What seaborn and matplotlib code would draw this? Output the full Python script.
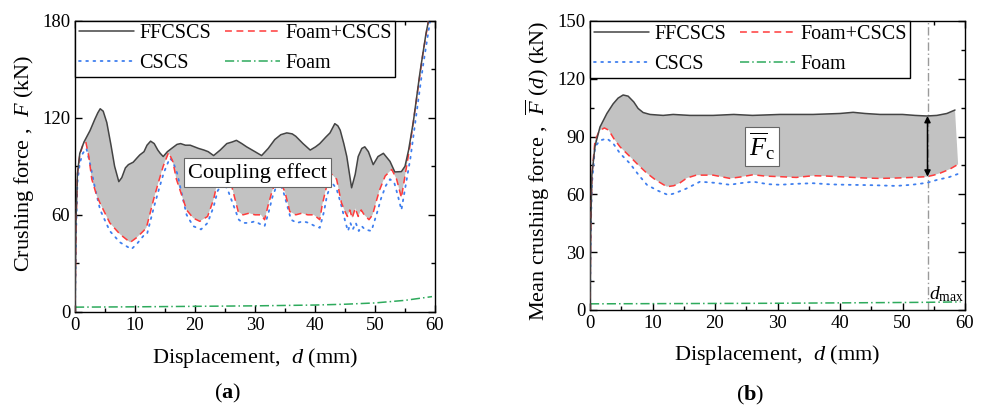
import numpy as np
import pandas as pd
import matplotlib
matplotlib.use("Agg")
import matplotlib.pyplot as plt
from matplotlib.ticker import MultipleLocator
import seaborn as sns

# ---------------- data: panel (a) crushing force ----------------
a_ff_d = [0, 0.15, 0.4, 0.8, 1.5, 2.5, 3.3, 3.8, 4.2, 4.7, 5.3, 6.0, 6.6, 7.3, 7.8, 8.4, 8.9,
          9.7, 10.3, 10.8, 11.5, 12.0, 12.6, 13.2, 13.8, 14.2, 14.7, 15.4, 16.1, 17.0, 17.6,
          18.4, 19.2, 20.6, 21.5, 22.2, 23.1, 24.2, 25.3, 26.2, 26.9, 27.8, 28.6, 30.0, 31.1,
          32.2, 33.3, 34.3, 35.3, 36.2, 36.8, 38.0, 39.2, 40.1, 40.8, 41.8, 42.5, 43.3, 43.8,
          44.2, 44.8, 45.3, 46.1, 46.7, 47.2, 47.8, 48.3, 48.9, 49.7, 50.5, 51.4, 52.5, 53.3,
          54.4, 55.0, 55.6, 56.4, 57.5, 58.5, 59.2]
a_ff_f = [0, 55, 85, 98, 105, 112, 119, 123, 125.5, 124, 117, 103, 90, 80.5, 83, 89, 91,
          92.5, 95, 97, 99, 103, 105.5, 104, 100, 98, 96, 99, 101, 103.5, 104,
          103, 103, 101, 100, 99, 96.6, 100, 104, 105, 106, 104, 102, 99, 96.6,
          101, 106.5, 109.5, 110.6, 110, 108.5, 104, 100, 102, 104, 108, 110.6, 116.3, 115,
          112.3, 104, 96, 76.7, 85, 96, 101, 102, 99, 91, 96, 98, 93, 86.5,
          86.7, 90, 100, 117.7, 148, 172, 185]

a_fc_d = [0, 0.15, 0.4, 0.8, 1.3, 1.8, 2.3, 2.8, 3.6, 4.2, 5.8, 7.5, 9.2, 10.3, 11.4, 11.9, 13.1,
          13.9, 14.7, 15.6, 16.3, 16.9, 18.6, 19.7, 20.8, 22.1, 23.1, 23.6, 24.8, 26.1, 27.2,
          28.0, 29.0, 30.0, 31.0, 31.6, 32.2, 32.8, 33.8, 35.0, 35.8, 36.8, 37.8, 38.8, 39.8,
          40.8, 41.2, 41.7, 42.3, 42.8, 43.6, 44.4, 45.0, 45.4, 45.8, 46.2, 46.7, 47.2, 47.7,
          48.2, 49.0, 49.6, 50.3, 50.8, 51.7, 52.8, 53.6, 54.4, 55.0, 55.8, 56.9, 58.0, 59.0]
a_fc_f = [0, 50, 85, 97, 103, 105, 96, 82, 72, 67, 55, 48, 43, 46, 50, 52, 69.5,
          80, 90, 98.5, 93, 82, 63, 58, 56, 59, 69.5, 78, 84, 78, 62,
          60, 61, 60, 60, 57, 66, 74, 84, 74, 62, 60, 61, 60, 60,
          57, 66, 74, 83, 85, 82, 67.5, 62, 59, 63, 58, 64, 59, 63,
          60, 57, 60, 69.5, 75.7, 84, 88, 82, 70.6, 84, 102, 131, 160, 182]

a_cs_d = [0, 0.15, 0.4, 0.8, 1.3, 1.9, 2.6, 3.3, 4.2, 5.8, 7.5, 9.4, 10.3, 11.4, 12.0, 13.1,
          14.0, 14.8, 15.8, 16.3, 17.0, 18.6, 19.7, 21.0, 22.1, 23.1, 23.8, 24.8, 25.6, 26.3,
          27.3, 28.0, 29.0, 30.0, 31.0, 31.6, 32.3, 32.9, 33.8, 34.6, 35.2, 36.0, 37.0, 38.0,
          39.0, 40.0, 40.8, 41.5, 42.0, 42.8, 43.6, 44.3, 45.1, 45.5, 45.9, 46.3, 46.8, 47.3,
          47.8, 48.3, 49.4, 50.4, 51.0, 51.8, 52.5, 53.2, 53.8, 54.4, 55.1, 55.9, 57.0,
          58.0, 59.2]
a_cs_f = [0, 45, 80, 92, 98, 101, 90, 77, 63, 50, 43, 38.8, 42, 47, 48, 64,
          76, 86, 95, 93, 86, 60, 53, 51, 55, 65, 75, 80, 74, 67,
          57, 55, 55, 56, 54, 53, 62, 71, 80, 76, 68, 57, 55, 56,
          55, 53, 52, 62, 72, 80, 76, 67, 55, 50, 55, 51, 55, 50,
          53, 51, 50, 62, 70, 78, 82, 80, 72, 63, 78, 95, 125,
          152, 180]

a_fo_d = [0, 10, 20, 30, 40, 45, 50, 55, 59.5]
a_fo_f = [3, 3.2, 3.5, 3.8, 4.3, 4.8, 5.6, 7.2, 9.5]

# ---------------- data: panel (b) mean crushing force ----------------
b_ff_d = [0, 0.1, 0.3, 0.8, 1.6, 2.7, 3.7, 4.5, 5.3, 6.1, 7.0, 7.7, 8.5, 9.6, 11.7, 13.3, 16,
          19.7, 23, 26, 30.4, 35.7, 40, 42.1, 44, 46.4, 50, 52, 53.9, 55.5, 57.1, 58.4]
b_ff_f = [0, 40, 70, 85, 95, 102, 107, 110, 111.6, 111, 108, 104.6, 102.5, 101.5, 101, 101.5, 101,
          101, 101.5, 101, 101.5, 101.5, 102, 102.6, 102, 101.5, 101.5, 101, 100.7, 101, 102, 103.8]

b_fc_d = [0, 0.1, 0.3, 0.8, 1.5, 2.3, 3.0, 3.8, 4.8, 6.4, 7.8, 9.1, 10.5, 12.3, 13.4, 14.4,
          15.5, 17.0, 19.7, 22.4, 24.0, 26.1, 28, 30.4, 33, 35.7, 38, 41, 44, 46.4, 49, 51.5,
          53.9, 55.0, 56.0, 57.5, 58.9]
b_fc_f = [0, 40, 70, 88, 93, 94.5, 93.3, 89, 84.7, 79.6, 75, 71, 67.5, 64, 64.5, 66,
          68.5, 70, 70, 68.3, 69, 70.2, 69.5, 69.2, 68.8, 69.7, 69.5, 69, 68.5, 68.3, 68.5, 68.8,
          69.2, 70, 71, 73, 75.6]

b_cs_d = [0, 0.1, 0.3, 0.8, 1.6, 2.7, 3.7, 4.8, 6.4, 7.8, 9.1, 10.8, 12.5, 13.5, 15.4, 17.6,
          20, 22.4, 24, 26.1, 28.5, 30.4, 33, 35.7, 38.5, 41, 45, 49, 51.5, 53.9, 55.5, 57.5, 59.2]
b_cs_f = [0, 38, 65, 84.7, 88, 89, 86.5, 81.3, 76, 70, 65, 62, 59.7, 60.5, 63, 66.6,
          66, 65, 65.8, 66.6, 65.3, 65, 65.5, 65.8, 65.2, 65, 64.8, 64.4, 65, 66, 67.5, 69, 71]

b_fo_d = [0, 10, 20, 30, 40, 50, 54, 59.3]
b_fo_f = [3.2, 3.3, 3.4, 3.5, 3.7, 3.9, 4.0, 4.2]

series_labels = ["FFCSCS", "Foam+CSCS", "CSCS", "Foam"]
d_max = 54
arrow_top = 100.7
arrow_bottom = 69.2

# ---------------- styling ----------------
sns.set_theme(style="ticks")
plt.rcParams.update({
    "font.family": ["Liberation Serif", "DejaVu Serif"],
    "mathtext.fontset": "custom",
    "mathtext.rm": "Liberation Serif",
    "mathtext.it": "Liberation Serif:italic",
    "mathtext.bf": "Liberation Serif:bold",
    "axes.edgecolor": "black",
    "axes.linewidth": 1.0,
    "xtick.color": "black",
    "ytick.color": "black",
    "text.color": "black",
    "axes.labelcolor": "black",
})

C_FF = "#444444"
C_FC = "#ff3b3b"
C_CS = "#3f7fef"
C_FO = "#2eaa5c"
C_FILL = "#c2c2c2"

fig = plt.figure(figsize=(9.83, 4.08), dpi=100)
axA = fig.add_axes([75 / 983, (408 - 312) / 408, 360 / 983, 291.5 / 408])
axB = fig.add_axes([590 / 983, (408 - 310) / 408, 375 / 983, 289 / 408])


def draw(ax, ffd, fff, fcd, fcf, csd, csf, fod, fof):
    ax.fill(np.r_[ffd, fcd[::-1]], np.r_[fff, fcf[::-1]], color=C_FILL, lw=0, zorder=1)
    sns.lineplot(x=ffd, y=fff, ax=ax, color=C_FF, lw=1.1, label=series_labels[0],
                 sort=False, zorder=4)
    sns.lineplot(x=fcd, y=fcf, ax=ax, color=C_FC, lw=1.1, label=series_labels[1],
                 sort=False, zorder=3)
    sns.lineplot(x=csd, y=csf, ax=ax, color=C_CS, lw=1.3, label=series_labels[2],
                 sort=False, zorder=2)
    sns.lineplot(x=fod, y=fof, ax=ax, color=C_FO, lw=1.1, label=series_labels[3],
                 sort=False, zorder=2)
    lines = ax.get_lines()
    lines[1].set_linestyle((0, (4.5, 3)))
    lines[2].set_linestyle((0, (1, 3)))
    lines[3].set_linestyle((0, (6, 2, 1, 2)))
    lines[2].set_dash_capstyle("round")
    handles = [lines[0], lines[2], lines[1], lines[3]]
    labels = [series_labels[0], series_labels[2], series_labels[1], series_labels[3]]
    leg = ax.legend(handles, labels, ncol=2, loc="upper left", bbox_to_anchor=(0, 1),
                    borderaxespad=0, frameon=True, fancybox=False, framealpha=1,
                    edgecolor="black", fontsize=14.5, handlelength=2.75, handletextpad=0.25,
                    columnspacing=0.7, labelspacing=0.55, borderpad=0.18)
    leg.get_frame().set_linewidth(1.0)
    leg.set_zorder(10)
    ax.set_xlim(0, 60)
    ax.xaxis.set_major_locator(MultipleLocator(10))
    ax.xaxis.set_minor_locator(MultipleLocator(5))
    ax.tick_params(which="both", direction="in", top=True, right=True, labelsize=13.5)
    ax.tick_params(which="major", length=5, width=1)
    ax.tick_params(which="minor", length=3, width=1)
    ax.set_xlabel(r"Displacement,  $d$ (mm)", fontsize=16)


draw(axA, a_ff_d, a_ff_f, a_fc_d, a_fc_f, a_cs_d, a_cs_f, a_fo_d, a_fo_f)
axA.set_ylim(0, 180)
axA.yaxis.set_major_locator(MultipleLocator(60))
axA.yaxis.set_minor_locator(MultipleLocator(30))
axA.set_ylabel(r"Crushing force ,  $F$ (kN)", fontsize=16)
axA.text(30.4, 86, "Coupling effect", fontsize=16, ha="center", va="center", zorder=8,
         bbox=dict(boxstyle="square,pad=0.2", fc="white", ec="#666666", lw=0.8))

draw(axB, b_ff_d, b_ff_f, b_fc_d, b_fc_f, b_cs_d, b_cs_f, b_fo_d, b_fo_f)
axB.set_ylim(0, 150)
axB.yaxis.set_major_locator(MultipleLocator(30))
axB.yaxis.set_minor_locator(MultipleLocator(15))
axB.set_ylabel(r"Mean crushing force ,  $\overline{F}$ ($d$) (kN)", fontsize=16)
axB.axvline(d_max, color="#9a9a9a", ls=(0, (6, 2, 1, 2)), lw=1.0, zorder=1.5)
axB.annotate("", xy=(d_max, arrow_top), xytext=(d_max, arrow_bottom),
             arrowprops=dict(arrowstyle="<|-|>", color="black", lw=1.1, mutation_scale=9,
                             shrinkA=0, shrinkB=0), zorder=6)
axB.text(27.5, 85, r"$\overline{F}_{\mathrm{c}}$", fontsize=19, ha="center", va="center", zorder=8,
         bbox=dict(boxstyle="square,pad=0.15", fc="white", ec="#666666", lw=0.8))
axB.text(d_max + 0.2, 3.0, r"$d_{\mathrm{max}}$", fontsize=14, ha="left", va="bottom", zorder=8)

for ax in (axA, axB):
    ax.xaxis.set_label_coords(0.5, -0.115)
axA.yaxis.set_label_coords(-0.108, 0.51)
axB.yaxis.set_label_coords(-0.102, 0.48)

fig.text(228 / 983, 1 - 393 / 408, r"($\mathbf{a}$)", fontsize=16, ha="center", va="center")
fig.text(750 / 983, 1 - 395 / 408, r"($\mathbf{b}$)", fontsize=16, ha="center", va="center")

fig.savefig("out.png", dpi=100, facecolor="white")
